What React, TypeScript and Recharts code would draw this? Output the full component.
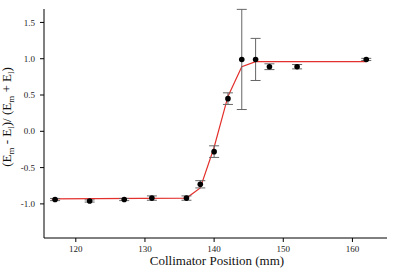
import {
  ComposedChart,
  ErrorBar,
  Line,
  Scatter,
  XAxis,
  YAxis,
} from "recharts";

// Measured points (collimator position in mm, asymmetry, error)
const positions = [117, 122, 127, 131, 136, 138, 140, 142, 144, 146, 148, 152, 162];
const asymmetry = [-0.94, -0.96, -0.94, -0.92, -0.92, -0.73, -0.28, 0.45, 0.99, 0.99, 0.89, 0.89, 0.99];
const errors = [0.015, 0.015, 0.015, 0.03, 0.03, 0.05, 0.08, 0.08, 0.69, 0.29, 0.04, 0.03, 0.015];

// Fit curve (red)
const fitX = [116.5, 136, 138, 140, 142, 144, 146, 162];
const fitY = [-0.93, -0.92, -0.78, -0.22, 0.48, 0.89, 0.96, 0.96];

const xTicks = [120, 130, 140, 150, 160];
const yTicks = [-1.0, -0.5, 0.0, 0.5, 1.0, 1.5];

const points = positions.map((x, i) => ({ x, y: asymmetry[i], err: errors[i] }));
const fit = fitX.map((x, i) => ({ x, y: fitY[i] }));

const FONT = '"Liberation Serif", "DejaVu Serif", serif';
const tickStyle = { fontSize: 9, fill: "#222", style: { fontFamily: FONT } };

const Dot = (props: { cx?: number; cy?: number }) => (
  <circle cx={props.cx} cy={props.cy} r={2.8} fill="#000" />
);

const YTitle = () => (
  <text
    x={11}
    y={117}
    transform="rotate(-90 11 117)"
    textAnchor="middle"
    fontSize={13}
    fill="#111"
    style={{ fontFamily: FONT }}
  >
    (E<tspan fontSize={9} dy={3}>m</tspan>
    <tspan dy={-3}> - E</tspan>
    <tspan fontSize={9} dy={3}>l</tspan>
    <tspan dy={-3}>)/ (E</tspan>
    <tspan fontSize={9} dy={3}>m</tspan>
    <tspan dy={-3}> + E</tspan>
    <tspan fontSize={9} dy={3}>l</tspan>
    <tspan dy={-3}>)</tspan>
  </text>
);

const XTitle = () => (
  <text
    x={217}
    y={265}
    textAnchor="middle"
    fontSize={13}
    fill="#111"
    style={{ fontFamily: FONT }}
  >
    Collimator Position (mm)
  </text>
);

export default function App() {
  return (
    <div style={{ position: "absolute", left: 0, top: 0, background: "#fff", fontFamily: FONT }}>
      <ComposedChart
        width={409}
        height={268}
        margin={{ top: 9, right: 22, left: 0, bottom: 0 }}
      >
        <XAxis
          type="number"
          dataKey="x"
          domain={[115.4, 165]}
          ticks={xTicks}
          allowDataOverflow
          height={30}
          tick={tickStyle}
          tickSize={4}
          tickMargin={4}
          stroke="#000"
          label={{ content: () => <XTitle /> }}
        />
        <YAxis
          type="number"
          dataKey="y"
          domain={[-1.47, 1.685]}
          ticks={yTicks}
          allowDataOverflow
          width={44}
          tick={tickStyle}
          tickSize={4}
          tickMargin={5}
          tickFormatter={(v: number) => v.toFixed(1)}
          stroke="#000"
          label={{ content: () => <YTitle /> }}
        />
        <Line
          data={fit}
          dataKey="y"
          type="linear"
          stroke="#e3302c"
          strokeWidth={1.2}
          dot={false}
          activeDot={false}
          isAnimationActive={false}
        />
        <Scatter data={points} dataKey="y" shape={<Dot />} isAnimationActive={false}>
          <ErrorBar dataKey="err" direction="y" width={5} stroke="#666" strokeWidth={1} />
        </Scatter>
      </ComposedChart>
    </div>
  );
}
